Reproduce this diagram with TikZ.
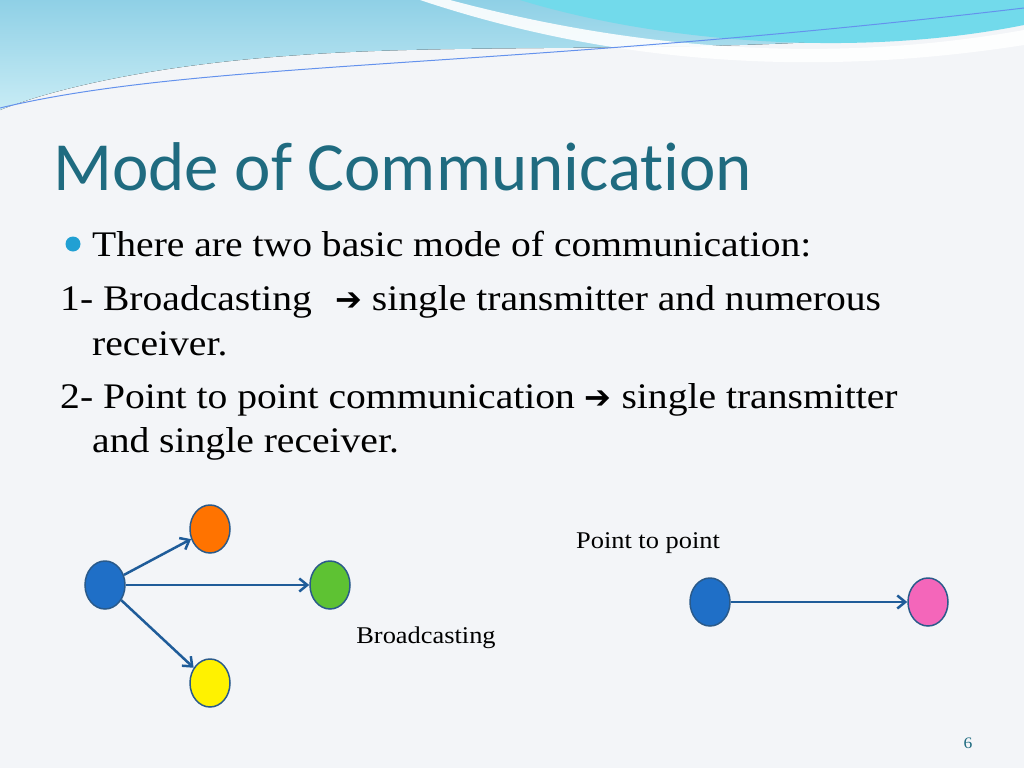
\documentclass[tikz,border=0pt]{standalone}
\usepackage{fontspec}
\setmainfont[FakeStretch=1.1]{Liberation Serif}
\newfontfamily\titlefont[Ligatures=NoCommon]{Carlito}
\newfontfamily\symfont{DejaVu Sans}
\usetikzlibrary{arrows.meta,shapes.geometric}
\definecolor{bg}{HTML}{F3F5F8}
\definecolor{titlec}{HTML}{1F6B80}
\definecolor{arr}{HTML}{1F5C99}
\definecolor{bluen}{HTML}{1F6FC7}
\definecolor{edgec}{HTML}{2A5A8A}
\definecolor{ban1}{HTML}{8FD0E6}
\definecolor{ban2}{HTML}{C8ECF5}
\tikzset{
 body/.style={anchor=base west,inner sep=0pt,font=\fontsize{36}{36}\selectfont},
 dot/.style={ellipse,draw=edgec,line width=1.5pt,minimum width=40pt,minimum height=48pt,inner sep=0pt},
 link/.style={arr,line width=2.5pt,-{Straight Barb[length=8pt,width=13pt]}},
 lbl/.style={font=\fontsize{24}{24}\selectfont,inner sep=0pt}
}
\begin{document}
\begin{tikzpicture}[x=1pt,y=-1pt]
\fill[bg] (0,0) rectangle (1024,768);
\useasboundingbox (0,0) rectangle (1024,768);
% banner
\fill[top color=ban1,bottom color=ban2] (0,0) -- (1024,0) -- (1024,20) .. controls (800,60) and (500,40) .. (300,55) .. controls (150,65) and (50,90) .. (0,110) -- cycle;
\fill[white,opacity=0.9] (450,0) .. controls (600,40) and (800,70) .. (1024,30) -- (1024,45) .. controls (800,80) and (600,60) .. (420,0) -- cycle;
\fill[ban1!80!cyan] (520,0) -- (1024,0) -- (1024,25) .. controls (850,60) and (650,40) .. (520,0) -- cycle;
\draw[ban1!70!blue,line width=1pt] (0,108) .. controls (200,60) and (500,70) .. (1024,8);
% title
\node[anchor=base west,inner sep=0pt,text=titlec,font=\titlefont\fontsize{69}{69}\selectfont] (title) at (53,190) {Mode of Communication};
\fill[cyan!70!teal] (73,244) circle (7.5pt);
\node[body] (l1) at (92,256) {There are two basic mode of communication:};
\node[body] (l2a) at (60,310) {1- Broadcasting};
\node[body] (l2b) at (335,310) {{\symfont\fontsize{32}{32}\selectfont➔} single transmitter and numerous};
\node[body] (l3) at (92,355) {receiver.};
\node[body] (l4) at (60,408) {2- Point to point communication {\symfont\fontsize{32}{32}\selectfont➔} single transmitter};
\node[body] (l5) at (92,452) {and single receiver.};
% broadcasting
\node[dot,fill=bluen] (s) at (105,585) {};
\node[dot,fill=orange!90!red] (o) at (210,529) {};
\node[dot,fill=green!60!lime!70!black!80] (g) at (330,585) {};
\node[dot,fill=yellow] (y) at (210,683) {};
\draw[link] (s) -- (o);
\draw[link] (s.east) -- (g.west);
\draw[link] (s) -- (y);
\node[lbl] (bl) at (426,638) {Broadcasting};
% point to point
\node[dot,fill=bluen] (p1) at (710,602) {};
\node[dot,fill=magenta!60] (p2) at (928,602) {};
\draw[link] (p1) -- (p2);
\node[lbl] (pl) at (648,543) {Point to point};
\node[font=\fontsize{16}{16}\selectfont,text=titlec] (pg) at (968,743) {6};
\end{tikzpicture}
\end{document}
